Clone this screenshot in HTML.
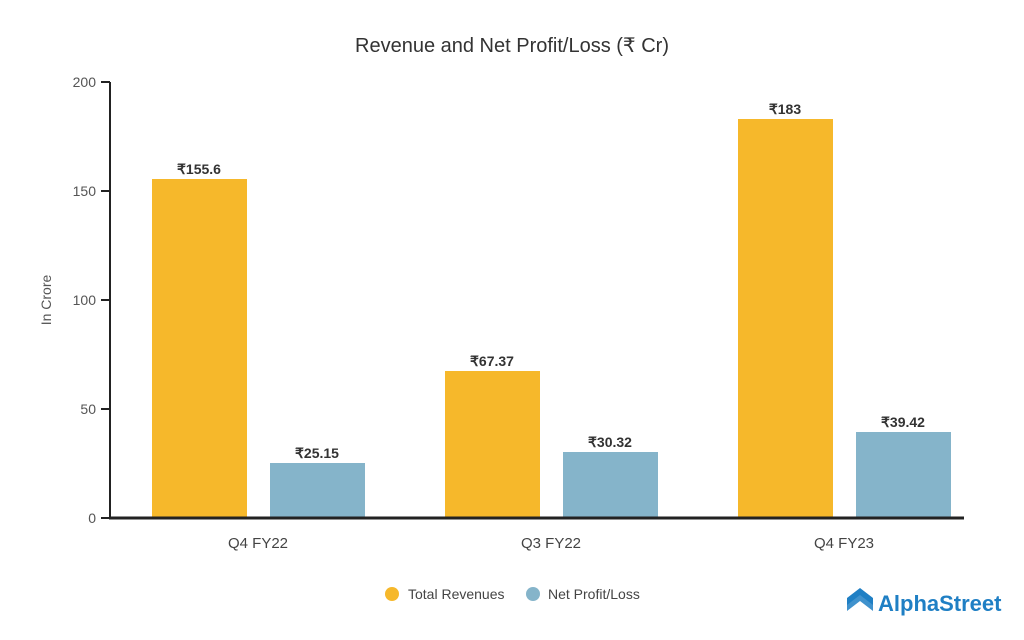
<!DOCTYPE html>
<html><head><meta charset="utf-8"><style>
html,body{margin:0;padding:0;background:#fff;}
svg{display:block;font-family:"Liberation Sans Narrow","Liberation Sans",sans-serif;}
</style></head><body>
<svg width="1024" height="640" viewBox="0 0 1024 640">
<rect width="1024" height="640" fill="#fff"/>
<text x="512" y="52" text-anchor="middle" font-size="20" fill="#333">Revenue and Net Profit/Loss (₹ Cr)</text>
<g font-size="14" fill="#555" text-anchor="end">
<text x="96" y="523">0</text><text x="96" y="414">50</text><text x="96" y="305">100</text><text x="96" y="196">150</text><text x="96" y="87">200</text>
</g>
<g stroke="#222" stroke-width="2">
<line x1="110" y1="82" x2="110" y2="519"/>
<line x1="101" y1="82" x2="110" y2="82"/><line x1="101" y1="191" x2="110" y2="191"/><line x1="101" y1="300" x2="110" y2="300"/><line x1="101" y1="409" x2="110" y2="409"/><line x1="101" y1="518" x2="110" y2="518"/>
</g>
<text transform="translate(51,300) rotate(-90)" text-anchor="middle" font-size="14" fill="#555">In Crore</text>
<g fill="#f6b82b">
<rect x="152" y="179" width="95" height="339"/><rect x="445" y="371" width="95" height="147"/><rect x="738" y="119" width="95" height="399"/>
</g>
<g fill="#85b4ca">
<rect x="270" y="463" width="95" height="55"/><rect x="563" y="452" width="95" height="66"/><rect x="856" y="432" width="95" height="86"/>
</g>
<line x1="109" y1="518" x2="964" y2="518" stroke="#222" stroke-width="3"/>
<g font-size="14" font-weight="bold" fill="#333" text-anchor="middle">
<text x="199" y="174">₹155.6</text><text x="317" y="458">₹25.15</text>
<text x="492" y="366">₹67.37</text><text x="610" y="447">₹30.32</text>
<text x="785" y="114">₹183</text><text x="903" y="427">₹39.42</text>
</g>
<g font-size="15" fill="#444" text-anchor="middle">
<text x="258" y="548">Q4 FY22</text><text x="551" y="548">Q3 FY22</text><text x="844" y="548">Q4 FY23</text>
</g>
<circle cx="392" cy="594" r="7" fill="#f6b82b"/>
<text x="408" y="599" font-size="14" fill="#444">Total Revenues</text>
<circle cx="533" cy="594" r="7" fill="#85b4ca"/>
<text x="548" y="599" font-size="14" fill="#444">Net Profit/Loss</text>
<g fill="#1f7fc4">
<path d="M847 598 L860 588 L873 598 L873 605 L860 595 L847 605 Z"/>
<path d="M847 604 L860 594 L873 604 L873 611 L860 601 L847 611 Z" opacity="0.85"/>
</g>
<text x="878" y="611" font-size="22" font-weight="bold" fill="#1f7fc4">AlphaStreet</text>
</svg>
</body></html>
